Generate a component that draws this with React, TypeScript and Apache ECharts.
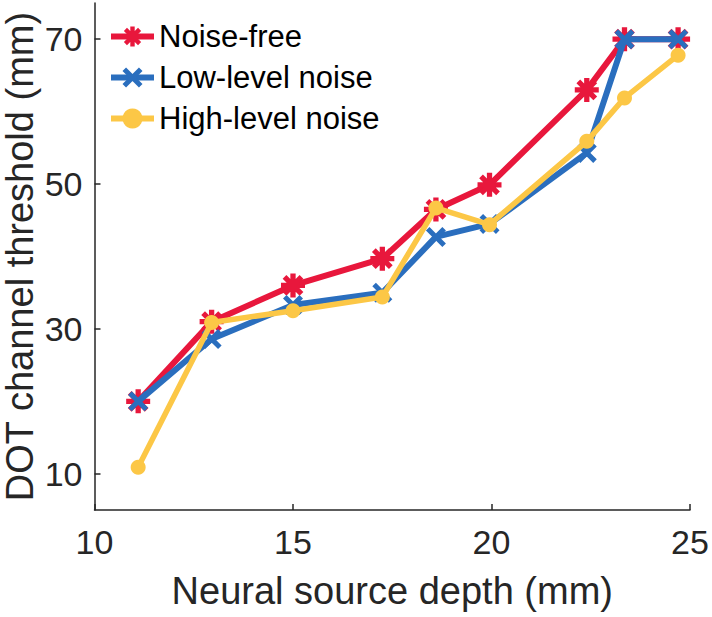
import React, { useEffect, useRef } from "react";
import * as echarts from "echarts";

const depths = [11.1, 12.95, 15.0, 17.25, 18.6, 19.95, 22.4, 23.35, 24.7];
const noiseFree = [20, 31, 36, 39.7, 46.5, 49.9, 63, 70, 70];
const lowNoise = [20, 28.6, 33.3, 35, 42.7, 44.5, 54.3, 70, 70];
const highNoise = [10.9, 30.9, 32.5, 34.4, 46.7, 44.4, 55.9, 61.9, 67.8];
const seriesNames = ["Noise-free", "Low-level noise", "High-level noise"];
const xTicks = [10, 15, 20, 25];
const yTicks = [10, 30, 50, 70];

const ASTERISK =
  "path://M0 39 L100 39 L100 61 L0 61 Z M39 0 L61 0 L61 100 L39 100 Z " +
  "M22.42 6.86 L93.14 77.58 L77.58 93.14 L6.86 22.42 Z " +
  "M6.86 77.58 L77.58 6.86 L93.14 22.42 L22.42 93.14 Z";
const CROSS =
  "path://M16.76 -1.62 L101.62 83.24 L83.24 101.62 L-1.62 16.76 Z " +
  "M-1.62 83.24 L83.24 -1.62 L101.62 16.76 L16.76 101.62 Z";

const FONT = "'Liberation Sans', Arial, Helvetica, sans-serif";

export default function App() {
  const ref = useRef<HTMLDivElement>(null);
  useEffect(() => {
    if (!ref.current) return;
    const chart = echarts.init(ref.current, undefined, { renderer: "svg" });
    const pairs = (ys: number[]) => depths.map((x, i) => [x, ys[i]]);
    const axisColor = "#262626";
    chart.setOption({
      animation: false,
      backgroundColor: "#ffffff",
      textStyle: { fontFamily: FONT },
      grid: { left: 94.5, right: 22, top: 3, bottom: 107, containLabel: false, outerBoundsMode: "none" },
      legend: {
        orient: "vertical",
        left: 108,
        top: 21,
        padding: 0,
        itemWidth: 43,
        itemHeight: 25,
        itemGap: 10,
        lineStyle: { width: 6 },
        textStyle: { fontSize: 31, color: "#000", fontFamily: FONT },
        data: seriesNames,
      },
      xAxis: {
        type: "value",
        min: 10,
        max: 25,
        interval: 5,
        name: "Neural source depth (mm)",
        nameLocation: "middle",
        nameGap: 62,
        nameMoveOverlap: false,
        nameTextStyle: { fontSize: 38, color: axisColor, fontFamily: FONT },
        axisLine: { lineStyle: { color: axisColor, width: 1.5 } },
        axisTick: { inside: true, length: 6, lineStyle: { color: axisColor, width: 1.5 }, customValues: xTicks },
        axisLabel: { fontSize: 34, color: axisColor, margin: 15, customValues: xTicks },
        splitLine: { show: false },
      },
      yAxis: {
        type: "value",
        min: 5,
        max: 75,
        name: "DOT channel threshold (mm)",
        nameLocation: "middle",
        nameGap: 56,
        nameMoveOverlap: false,
        nameTextStyle: { fontSize: 38, lineHeight: 38, color: axisColor, fontFamily: FONT },
        axisLine: { show: true, lineStyle: { color: axisColor, width: 1.5 } },
        axisTick: { show: true, inside: true, length: 6, lineStyle: { color: axisColor, width: 1.5 }, customValues: yTicks },
        axisLabel: { fontSize: 34, color: axisColor, margin: 12, customValues: yTicks },
        splitLine: { show: false },
      },
      series: [
        {
          name: seriesNames[0],
          type: "line",
          data: pairs(noiseFree),
          symbol: ASTERISK,
          symbolSize: 24,
          color: "#E8173C",
          lineStyle: { width: 6, color: "#E8173C" },
          itemStyle: { color: "#E8173C" },
          z: 2,
        },
        {
          name: seriesNames[1],
          type: "line",
          data: pairs(lowNoise),
          symbol: CROSS,
          symbolSize: 20,
          color: "#2A6EBE",
          lineStyle: { width: 6, color: "#2A6EBE" },
          itemStyle: { color: "#2A6EBE" },
          z: 3,
        },
        {
          name: seriesNames[2],
          type: "line",
          data: pairs(highNoise),
          symbol: "circle",
          symbolSize: 15,
          color: "#FCC746",
          lineStyle: { width: 5.5, color: "#FCC746" },
          itemStyle: { color: "#FCC746" },
          z: 4,
        },
      ],
    });
    return () => chart.dispose();
  }, []);
  return (
    <div
      ref={ref}
      style={{ position: "fixed", left: 0, top: 0, width: 712, height: 617, background: "#fff" }}
    />
  );
}
